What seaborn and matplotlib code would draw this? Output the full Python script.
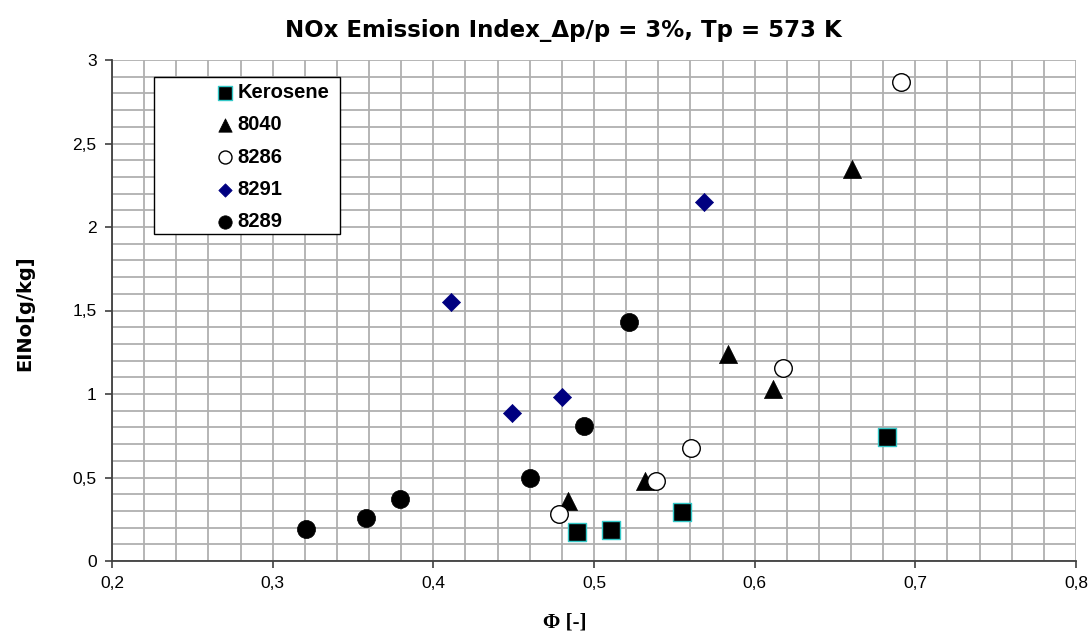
import matplotlib
matplotlib.use("Agg")
import matplotlib.pyplot as plt
import matplotlib.patches as mpatches
from matplotlib.ticker import MultipleLocator, FuncFormatter
import seaborn as sns
import pandas as pd

# ---- data ----
kerosene_x = [0.4895, 0.5104, 0.5548, 0.6826]
kerosene_y = [0.175, 0.186, 0.295, 0.740]

s8040_x = [0.4838, 0.5318, 0.5837, 0.6114, 0.6603]
s8040_y = [0.358, 0.477, 1.238, 1.028, 2.346]

s8286_x = [0.478, 0.5385, 0.5605, 0.6177, 0.6909]
s8286_y = [0.280, 0.479, 0.679, 1.158, 2.866]

s8291_x = [0.4107, 0.449, 0.480, 0.5686]
s8291_y = [1.549, 0.884, 0.980, 2.150]

s8289_x = [0.3206, 0.3584, 0.3793, 0.4602, 0.494, 0.5217]
s8289_y = [0.190, 0.257, 0.370, 0.500, 0.808, 1.429]

series_names = ["Kerosene", "8040", "8286", "8291", "8289"]
xticks = [0.2, 0.3, 0.4, 0.5, 0.6, 0.7, 0.8]
yticks = [0, 0.5, 1, 1.5, 2, 2.5, 3]

title = "NOx Emission Index_\u0394p/p = 3%, Tp = 573 K"
xlabel = "\u03a6 [-]"
ylabel = "EINo[g/kg]"

# ---- styles ----
styles = {
    "Kerosene": dict(marker="s", s=160, color="black", edgecolor="#33c8c8", linewidth=1.0),
    "8040": dict(marker="^", s=170, color="black", edgecolor="black", linewidth=0.5),
    "8286": dict(marker="o", s=160, color="white", edgecolor="black", linewidth=1.0),
    "8291": dict(marker="D", s=85, color="#000080", edgecolor="#000080", linewidth=0.5),
    "8289": dict(marker="o", s=170, color="black", edgecolor="black", linewidth=0.5),
}

frames = []
for name, xs, ys in zip(series_names,
                        [kerosene_x, s8040_x, s8286_x, s8291_x, s8289_x],
                        [kerosene_y, s8040_y, s8286_y, s8291_y, s8289_y]):
    frames.append(pd.DataFrame({"phi": xs, "ei": ys, "series": name}))
df = pd.concat(frames, ignore_index=True)

sns.set_style("white")
plt.rcParams["font.family"] = ["Liberation Sans", "DejaVu Sans"]
plt.rcParams["text.color"] = "black"
plt.rcParams["axes.labelcolor"] = "black"
plt.rcParams["xtick.color"] = "black"
plt.rcParams["ytick.color"] = "black"

W, H = 1089, 637
fig = plt.figure(figsize=(W / 100, H / 100), dpi=100)
L, R, T, B = 112, 1076, 60, 561
ax = fig.add_axes([L / W, 1 - B / H, (R - L) / W, (B - T) / H])

for name in series_names:
    sub = df[df["series"] == name]
    st = styles[name]
    sns.scatterplot(data=sub, x="phi", y="ei", ax=ax, label=name,
                    marker=st["marker"], s=st["s"], color=st["color"],
                    edgecolor=st["edgecolor"], linewidth=st["linewidth"],
                    zorder=3, legend=False)

ax.set_xlim(0.2, 0.8)
ax.set_ylim(0, 3)
ax.set_xticks(xticks)
ax.set_yticks(yticks)
ax.xaxis.set_minor_locator(MultipleLocator(0.02))
ax.yaxis.set_minor_locator(MultipleLocator(0.1))

def comma_fmt(v, pos):
    s = ("%.1f" % v).rstrip("0").rstrip(".")
    return s.replace(".", ",")

ax.xaxis.set_major_formatter(FuncFormatter(comma_fmt))
ax.yaxis.set_major_formatter(FuncFormatter(comma_fmt))

ax.grid(True, which="both", color="#b0b0b0", linewidth=1.3, zorder=0)
ax.set_axisbelow(True)
for sp in ["top", "right"]:
    ax.spines[sp].set_visible(False)
for sp in ["left", "bottom"]:
    ax.spines[sp].set_color("#404040")
    ax.spines[sp].set_linewidth(1.3)
    ax.spines[sp].set_zorder(4)

ax.tick_params(axis="both", which="major", direction="out", length=5, width=1.2,
               color="#404040", labelcolor="black", labelsize=12.5, pad=6,
               bottom=True, left=True)
ax.tick_params(axis="both", which="minor", length=0)
ax.set_xlabel("")
ax.set_ylabel("")

# titles / labels
fig.text(563 / W, 1 - 36.7 / H, title, ha="center", va="baseline", fontsize=16.5,
         fontweight="bold", color="black", family=["DejaVu Sans"])
fig.text(565 / W, 1 - 622 / H, xlabel, ha="center", va="center", fontsize=15,
         fontweight="bold", color="black", family=["Liberation Serif", "DejaVu Serif"])
fig.text(25 / W, 1 - 313 / H, ylabel, ha="center", va="center", fontsize=14,
         fontweight="bold", rotation=90, color="black", family=["DejaVu Sans"])

# legend frame
rect = mpatches.Rectangle((154 / W, 1 - 234 / H), (340 - 154) / W, (234 - 77) / H,
                          transform=fig.transFigure, facecolor="white",
                          edgecolor="black", linewidth=1.0, zorder=5, clip_on=False)
ax.add_patch(rect)

handles, labels = ax.get_legend_handles_labels()
leg = ax.legend(handles, labels, loc="upper left",
                bbox_to_anchor=(215 / W, 1 - 83 / H), bbox_transform=fig.transFigure,
                frameon=False, borderpad=0, borderaxespad=0, handlelength=1.0,
                handletextpad=0.12, labelspacing=0.66, markerscale=0.74,
                prop={"weight": "bold", "size": 14.5})
for t in leg.get_texts():
    t.set_color("black")
leg.set_zorder(6)

fig.savefig("out.png", dpi=100)
